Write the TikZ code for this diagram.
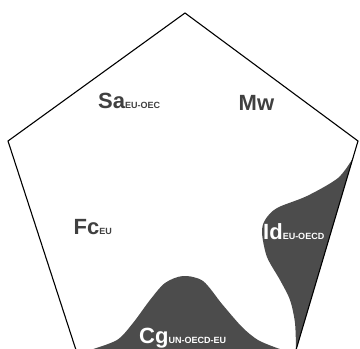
\documentclass[tikz,border=0pt]{standalone}
\usepackage{fontspec}
\setmainfont{Liberation Sans}
\usepackage{tikz}
\definecolor{areagray}{gray}{0.3}
\definecolor{textgray}{gray}{0.25}
\newcommand{\subtag}[1]{{\fontsize{9}{9}\selectfont #1}}

\begin{document}
\begin{tikzpicture}
        [
        x=1pt, y=-1pt,
        txt/.style={anchor=base west, inner sep=0pt, font=\fontsize{22}{22}\selectfont\bfseries, text=textgray},
        txtw/.style={txt, text=white},
        area/.style={fill=areagray},
        edge/.style={draw=black, line width=1.1pt, line join=miter},
        ]
                \useasboundingbox (0,0) rectangle (360,349);

                % corners
                \coordinate (top)    at (185, 13);
                \coordinate (right)  at (358,141);
                \coordinate (bright) at (296,350);
                \coordinate (bleft)  at ( 76,350);
                \coordinate (left)   at (  8,141);
                \coordinate (idtop)  at (353,158);

                % shaded areas
                \fill[area] (idtop) -- (bright) -- plot[smooth] coordinates
                        {(296,350) (295,323) (290,300) (280,280) (267,257) (262,233)
                         (265,220) (277,208) (307,196) (338,178) (idtop)} -- cycle;
                \fill[area] (90,350) -- plot[smooth] coordinates
                        {(90,350) (117,340) (133,323) (150,300) (165,283) (183,276)
                         (203,281) (222,304) (242,327) (258,340) (277,348) (284,350)} -- cycle;

                % outline
                \draw[edge] (top) -- (right) -- (bright) -- (bleft) -- (left) -- cycle;

                % labels
                \node[txt]  (sa) at ( 98,108) {Sa\subtag{EU-OEC}};
                \node[txt]  (mw) at (238.5,110.5) {Mw};
                \node[txt]  (fc) at ( 73.5,234) {Fc\subtag{EU}};
                \node[txtw] (id) at (263,239) {Id\subtag{EU-OECD}};
                \node[txtw] (cg) at (139,343) {Cg\subtag{UN-OECD-EU}};
\end{tikzpicture}
\end{document}
